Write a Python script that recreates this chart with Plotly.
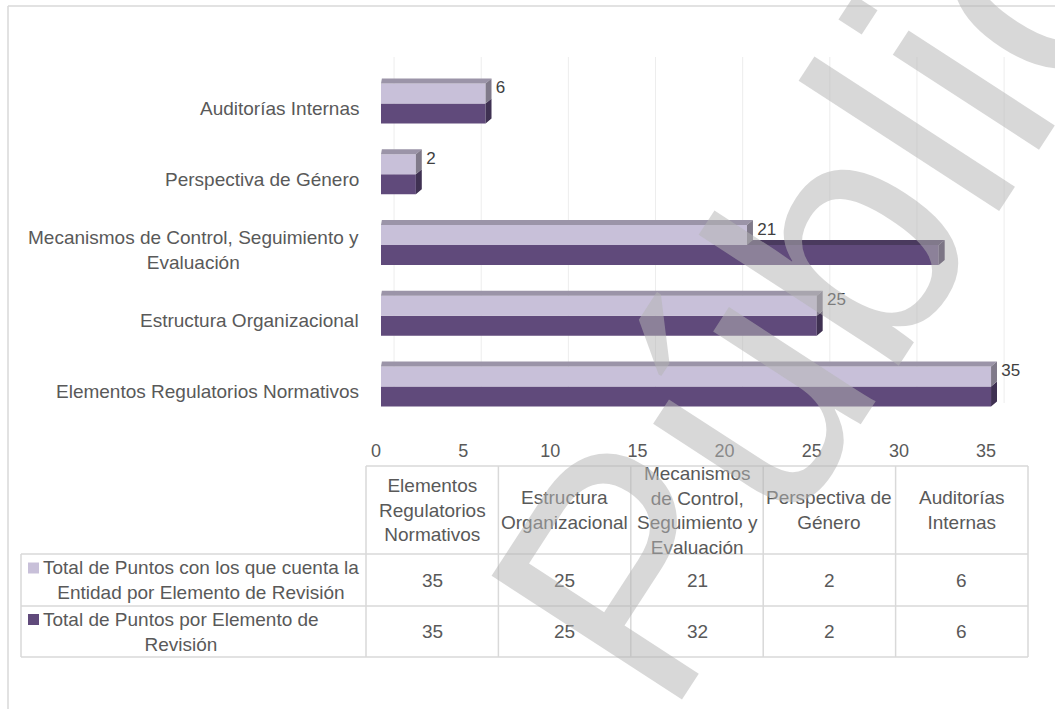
import plotly.graph_objects as go

# ---------------- data ----------------
categories = [
    "Elementos Regulatorios Normativos",
    "Estructura Organizacional",
    "Mecanismos de Control, Seguimiento y Evaluación",
    "Perspectiva de Género",
    "Auditorías Internas",
]
axis_labels = [
    "Elementos Regulatorios Normativos",
    "Estructura Organizacional",
    "Mecanismos de Control, Seguimiento y<br>Evaluación",
    "Perspectiva de Género",
    "Auditorías Internas",
]
header_labels = [
    "Elementos<br>Regulatorios<br>Normativos",
    "Estructura<br>Organizacional",
    "Mecanismos<br>de Control,<br>Seguimiento y<br>Evaluación",
    "Perspectiva de<br>Género",
    "Auditorías<br>Internas",
]
puntos_entidad = [35, 25, 21, 2, 6]
puntos_total = [35, 25, 32, 2, 6]
series_names = [
    "Total de Puntos con los que cuenta la<br>Entidad por Elemento de Revisión",
    "Total de Puntos por Elemento de<br>Revisión",
]
x_ticks = [0, 5, 10, 15, 20, 25, 30, 35]
watermark = "Pública"

# ---------------- style ----------------
W, H = 1055, 709
LIGHT = "#C8C0D9"
DARK = "#604A7B"
LIGHT_TOP = "#9B94A8"
LIGHT_SIDE = "#807A8A"
DARK_TOP = "#4A3A5E"
DARK_SIDE = "#3F3152"
GRID = "#EDEDED"
BORDER = "#D9D9D9"
TXT = "#595959"
FONT = "Liberation Sans, Arial, sans-serif"


def px(x):
    return x / W


def py(y):
    return 1 - y / H


pos = list(range(len(categories)))
BW = 0.283   # bar thickness (category units)
DX = 0.34    # 3D depth along value axis
DY = 0.07    # 3D depth along category axis


def poly_trace(polys, color):
    xs, ys = [], []
    for pts in polys:
        for (a, b) in pts:
            xs.append(a)
            ys.append(b)
        xs.append(pts[0][0])
        ys.append(pts[0][1])
        xs.append(None)
        ys.append(None)
    return go.Scatter(x=xs, y=ys, mode="lines", fill="toself", fillcolor=color,
                      line=dict(width=0, color=color), showlegend=False,
                      hoverinfo="skip")


fig = go.Figure()

# front faces of both series
fig.add_trace(go.Bar(
    y=pos, x=puntos_total, orientation="h", width=BW, offset=-BW,
    marker=dict(color=DARK, line=dict(width=0)), name=series_names[1],
    showlegend=False, hoverinfo="x",
))
fig.add_trace(go.Bar(
    y=pos, x=puntos_entidad, orientation="h", width=BW, offset=0,
    marker=dict(color=LIGHT, line=dict(width=0)), name=series_names[0],
    showlegend=False, hoverinfo="x",
))

# 3D faces of the dark series (top face only where it sticks out past the light bar)
dark_top = [[(vl, p), (vd, p), (vd + DX, p + DY), (vl, p + DY)]
            for p, vd, vl in zip(pos, puntos_total, puntos_entidad) if vd > vl]
dark_side = [[(v, p - BW), (v, p), (v + DX, p + DY), (v + DX, p - BW + DY)]
             for p, v in zip(pos, puntos_total)]
if dark_top:
    fig.add_trace(poly_trace(dark_top, DARK_TOP))
fig.add_trace(poly_trace(dark_side, DARK_SIDE))

# 3D faces of the light series
light_top = [[(0, p + BW), (v, p + BW), (v + DX, p + BW + DY), (0.05, p + BW + DY)]
             for p, v in zip(pos, puntos_entidad)]
light_side = [[(v, p), (v, p + BW), (v + DX, p + BW + DY), (v + DX, p + DY)]
              for p, v in zip(pos, puntos_entidad)]
fig.add_trace(poly_trace(light_top, LIGHT_TOP))
fig.add_trace(poly_trace(light_side, LIGHT_SIDE))

# data labels
fig.add_trace(go.Scatter(
    x=[v + DX + 0.25 for v in puntos_entidad],
    y=[p + BW - 0.075 for p in pos],
    mode="text", text=[str(v) for v in puntos_entidad],
    textposition="middle right", cliponaxis=False,
    textfont=dict(family=FONT, size=17, color="#404040"),
    showlegend=False, hoverinfo="skip",
))

shapes = []
annotations = []

# faint back-wall gridlines
for t in x_ticks:
    shapes.append(dict(type="line", xref="x", yref="paper", x0=t + 0.75, x1=t + 0.75,
                       y0=py(403), y1=py(57), line=dict(color=GRID, width=1),
                       layer="below"))

# outer chart border
shapes.append(dict(type="line", xref="paper", yref="paper", x0=px(8), x1=px(8),
                   y0=py(712), y1=py(6), line=dict(color=BORDER, width=1.5)))
shapes.append(dict(type="line", xref="paper", yref="paper", x0=px(8), x1=px(1060),
                   y0=py(6), y1=py(6), line=dict(color=BORDER, width=1.5)))

# category labels
for p, lab in zip(pos, axis_labels):
    annotations.append(dict(xref="paper", yref="y", x=px(361), y=p - 0.07,
                            xanchor="right", yanchor="middle", align="center",
                            text=lab, showarrow=False,
                            font=dict(family=FONT, size=19, color=TXT)))

# ---------------- data table ----------------
col0 = 366
colw = 132.4
ncol = len(categories)
cols = [col0 + colw * k for k in range(ncol + 1)]
left = 21
rows = [466, 554, 606, 657]
tl = dict(color=BORDER, width=1.5)

shapes.append(dict(type="line", xref="paper", yref="paper", x0=px(cols[0]), x1=px(cols[-1]),
                   y0=py(rows[0]), y1=py(rows[0]), line=tl))
for r in rows[1:]:
    shapes.append(dict(type="line", xref="paper", yref="paper", x0=px(left), x1=px(cols[-1]),
                       y0=py(r), y1=py(r), line=tl))
for c in cols:
    shapes.append(dict(type="line", xref="paper", yref="paper", x0=px(c), x1=px(c),
                       y0=py(rows[0]), y1=py(rows[-1]), line=tl))
shapes.append(dict(type="line", xref="paper", yref="paper", x0=px(left), x1=px(left),
                   y0=py(rows[1]), y1=py(rows[-1]), line=tl))

hdr_y = (rows[0] + rows[1]) / 2
for k, lab in enumerate(header_labels):
    annotations.append(dict(xref="paper", yref="paper", x=px((cols[k] + cols[k + 1]) / 2),
                            y=py(hdr_y), xanchor="center", yanchor="middle", align="center",
                            text=lab, showarrow=False,
                            font=dict(family=FONT, size=19, color=TXT)))

series_vals = [puntos_entidad, puntos_total]
series_cols = [LIGHT, DARK]
for r, (name, vals, colr) in enumerate(zip(series_names, series_vals, series_cols)):
    yc = (rows[r + 1] + rows[r + 2]) / 2
    annotations.append(dict(xref="paper", yref="paper", x=px(41), y=py(yc),
                            xanchor="left", yanchor="middle", align="center",
                            text=name, showarrow=False,
                            font=dict(family=FONT, size=19, color=TXT)))
    sq_y = yc - 12
    shapes.append(dict(type="rect", xref="paper", yref="paper", x0=px(28), x1=px(39),
                       y0=py(sq_y - 5.5), y1=py(sq_y + 5.5),
                       fillcolor=colr, line=dict(width=0)))
    for k, v in enumerate(vals):
        annotations.append(dict(xref="paper", yref="paper", x=px((cols[k] + cols[k + 1]) / 2),
                                y=py(yc), xanchor="center", yanchor="middle",
                                text=str(v), showarrow=False,
                                font=dict(family=FONT, size=19, color=TXT)))

# watermark (drawn last, on top)
annotations.append(dict(xref="paper", yref="paper", x=px(866), y=py(205),
                        xanchor="center", yanchor="middle", text=watermark,
                        textangle=-57, showarrow=False,
                        font=dict(family=FONT, size=330, color="rgba(181,181,181,0.52)")))

fig.update_layout(
    width=W, height=H,
    margin=dict(l=0, r=0, t=0, b=0, pad=0, autoexpand=False),
    paper_bgcolor="white", plot_bgcolor="white",
    barmode="overlay",
    showlegend=False,
    xaxis=dict(domain=[px(381), px(381 + 36 * 17.43)], range=[0, 36],
               tickmode="array", tickvals=x_ticks, ticktext=[str(t) for t in x_ticks],
               showgrid=False, zeroline=False, showline=False, ticks="",
               automargin=False,
               ticklabelshift=-5, ticklabelstandoff=9,
               tickfont=dict(family=FONT, size=18, color=TXT)),
    yaxis=dict(domain=[py(429), py(61)], range=[-0.6, 4.6], automargin=False,
               showticklabels=False, showgrid=False, zeroline=False, showline=False),
    shapes=shapes,
    annotations=annotations,
)

fig.write_html("out.html")
